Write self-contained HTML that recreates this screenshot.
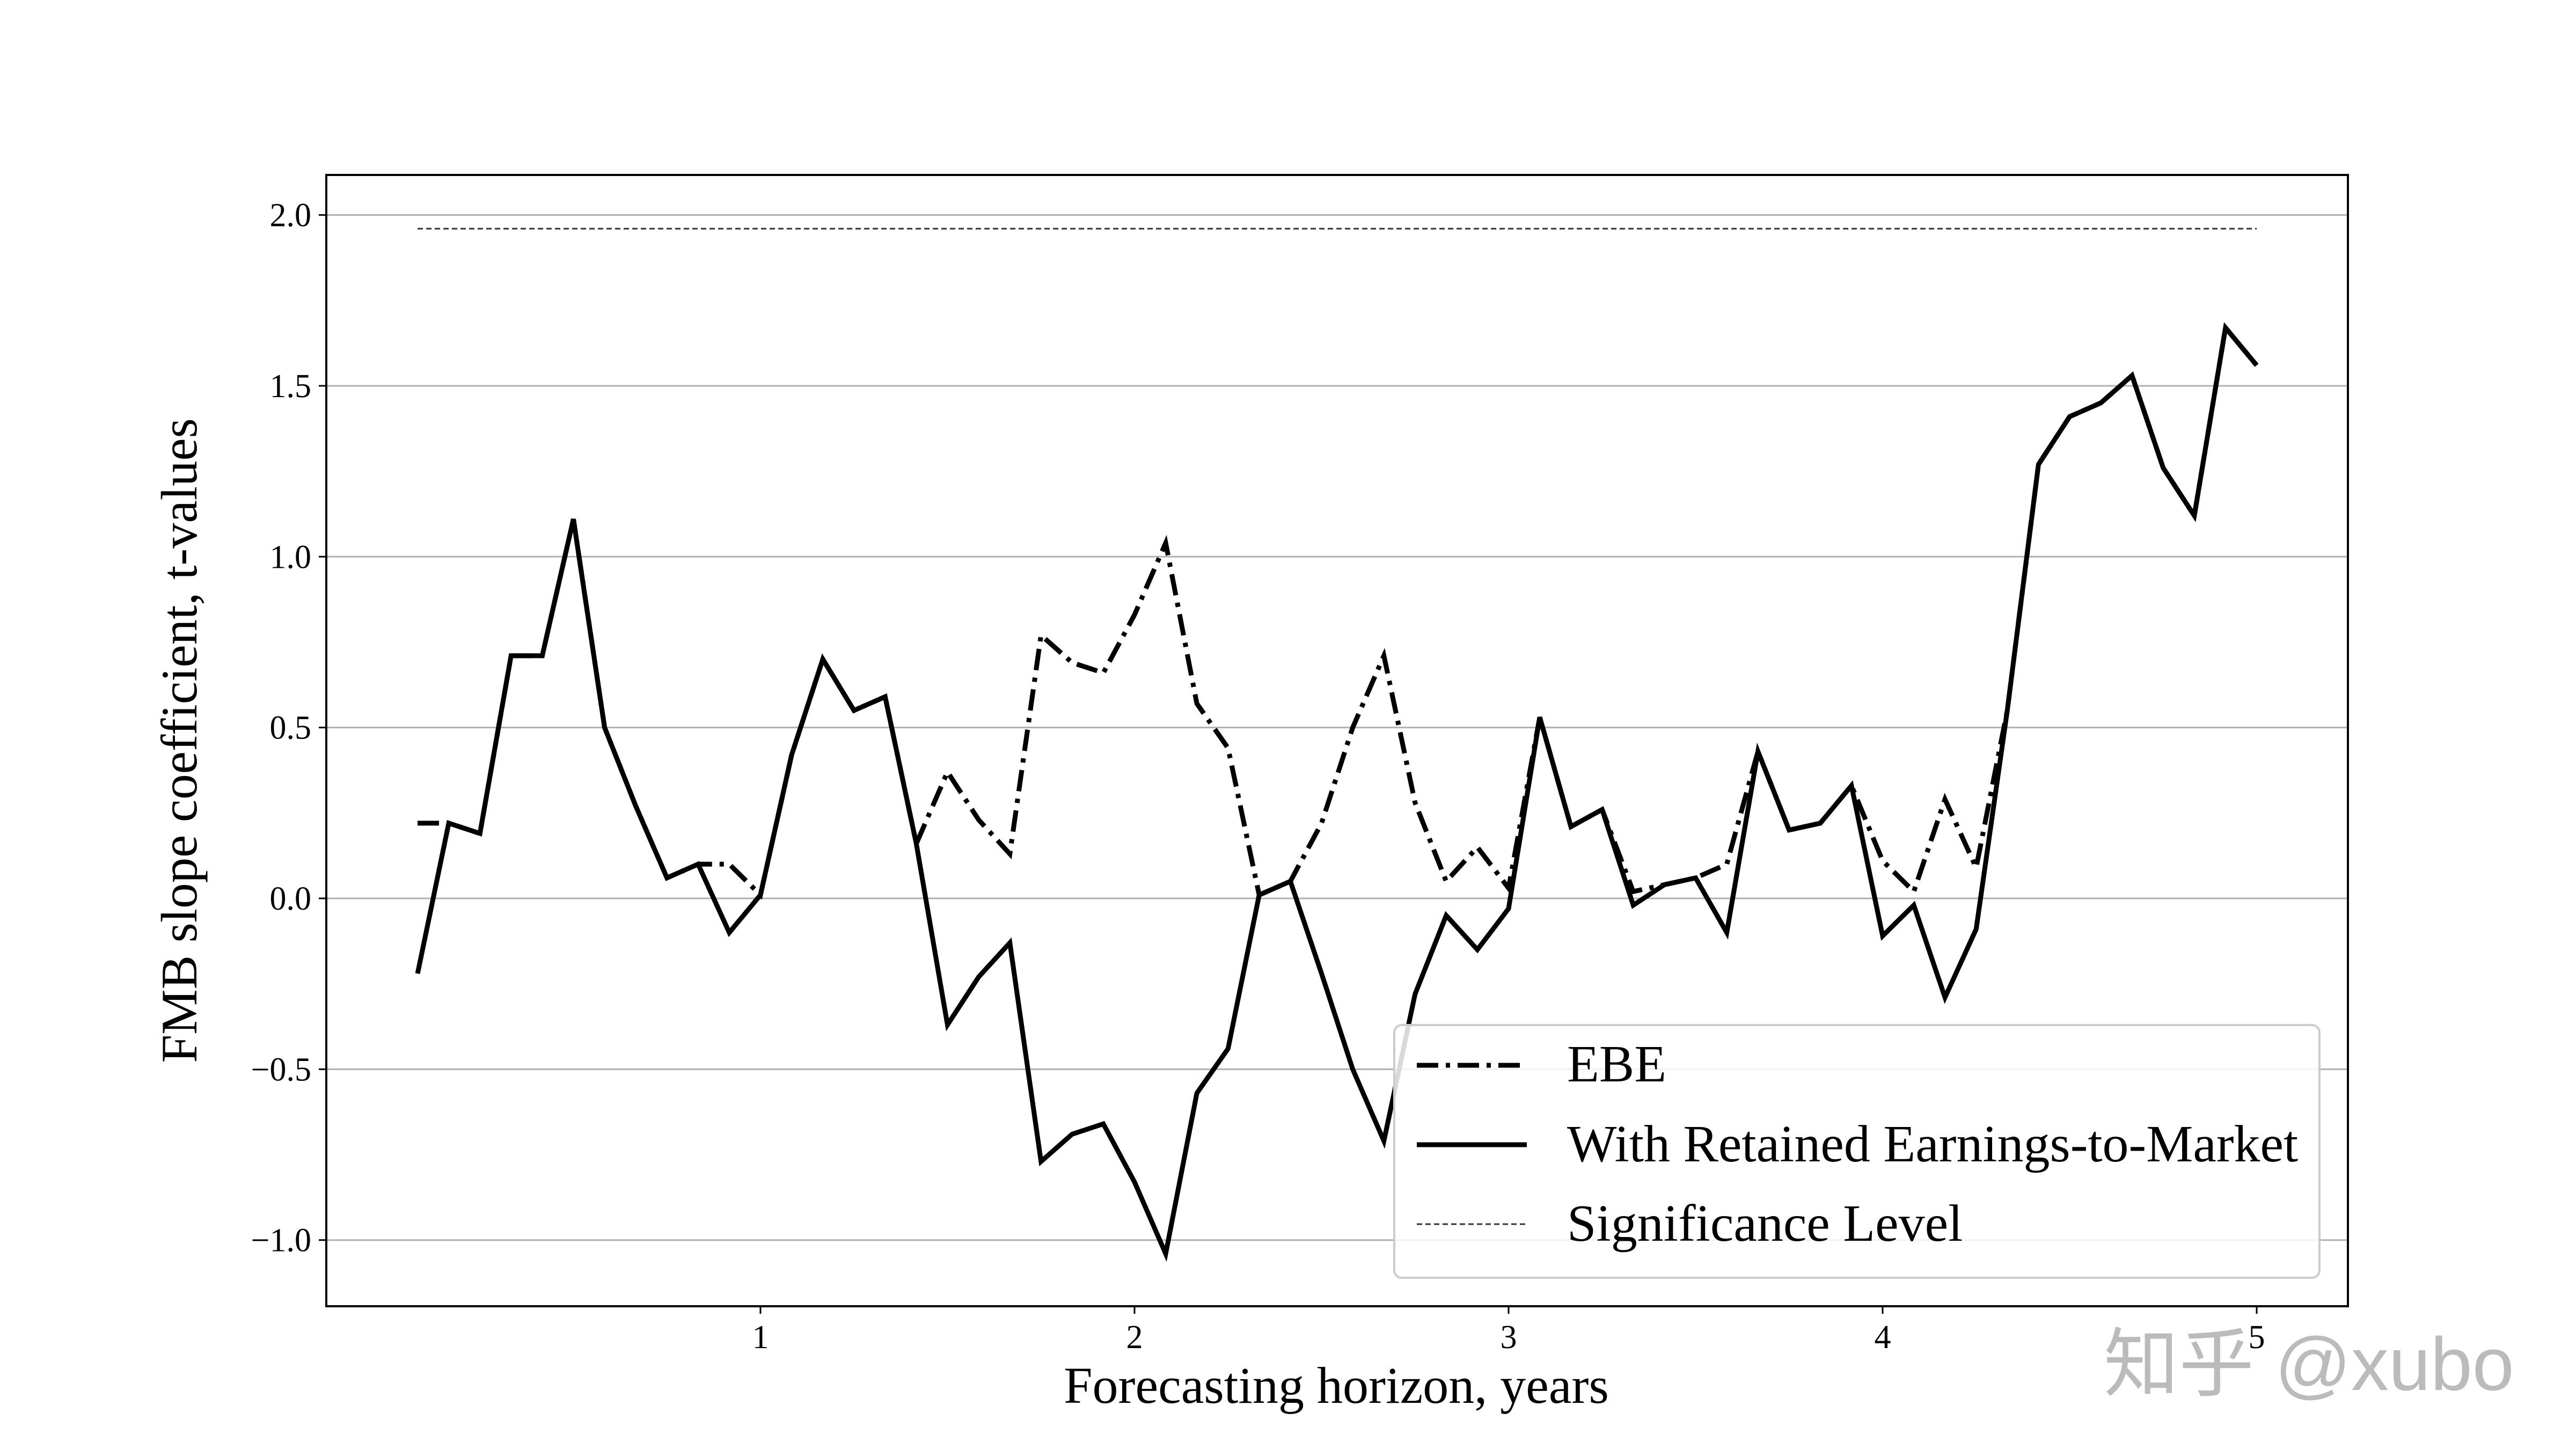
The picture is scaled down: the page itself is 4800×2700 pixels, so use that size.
<!DOCTYPE html>
<html><head><meta charset="utf-8"><style>
html,body{margin:0;padding:0;background:#fff;}
svg{display:block;font-family:"Liberation Serif","Noto Serif CJK SC",serif;}
</style></head><body>
<svg id="chart" width="4800" height="2700" viewBox="0 0 4800 2700">
<g id="grid"></g>
<g id="series"></g>
<rect x="608" y="326" width="3767" height="2108" fill="none" stroke="#000" stroke-width="4"/>
<g id="ticks"></g>
<text x="366" y="1380" font-size="95" text-anchor="middle" transform="rotate(-90 366 1380)">FMB slope coefficient, t-values</text>
<text x="2490" y="2614" font-size="96" text-anchor="middle">Forecasting horizon, years</text>
<g>
<rect x="2598" y="1910" width="1724" height="471" rx="14" fill="#fff" fill-opacity="0.85" stroke="#ccc" stroke-width="4"/>
<line x1="2640" y1="1985" x2="2845" y2="1985" stroke="#000" stroke-width="9" stroke-dasharray="40,14,8,14"/>
<text x="2920" y="2015" font-size="98">EBE</text>
<line x1="2640" y1="2133" x2="2845" y2="2133" stroke="#000" stroke-width="9"/>
<text x="2920" y="2164" font-size="98">With Retained Earnings-to-Market</text>
<line x1="2640" y1="2281" x2="2845" y2="2281" stroke="#333" stroke-width="3" stroke-dasharray="10,6"/>
<text x="2920" y="2312" font-size="98">Significance Level</text>
</g>
<text x="3920" y="2590" font-size="140" fill="#bbb" font-family="'Liberation Sans','Noto Sans CJK SC',sans-serif">知乎 @xubo</text>
</svg>
<script>
const retained = [-0.22,0.22,0.19,0.71,0.71,1.11,0.50,0.27,0.06,0.10,-0.10,0.01,0.42,0.70,0.55,0.59,0.16,-0.37,-0.23,-0.13,-0.77,-0.69,-0.66,-0.83,-1.04,-0.57,-0.44,0.01,0.05,-0.22,-0.50,-0.71,-0.28,-0.05,-0.15,-0.03,0.53,0.21,0.26,-0.02,0.04,0.06,-0.10,0.43,0.20,0.22,0.33,-0.11,-0.02,-0.29,-0.09,0.55,1.27,1.41,1.45,1.53,1.26,1.12,1.67,1.56];
const ebe = [0.22,0.22,0.19,0.71,0.71,1.11,0.50,0.27,0.06,0.10,0.10,0.01,0.42,0.70,0.55,0.59,0.16,0.37,0.23,0.13,0.77,0.69,0.66,0.83,1.04,0.57,0.44,0.01,0.05,0.22,0.50,0.71,0.28,0.05,0.15,0.03,0.53,0.21,0.26,0.02,0.04,0.06,0.10,0.43,0.20,0.22,0.33,0.11,0.02,0.29,0.09,0.55,1.27,1.41,1.45,1.53,1.26,1.12,1.67,1.56];
const significance = 1.96;
const yTicks = [-1.0,-0.5,0.0,0.5,1.0,1.5,2.0];
const yTickLabels = ["\u22121.0","\u22120.5","0.0","0.5","1.0","1.5","2.0"];
const xTicks = [1,2,3,4,5];
const NS="http://www.w3.org/2000/svg";
function X(v){return 1417+(v-1)*697;}
function Y(v){return 1674-v*636.7;}
function mk(tag,attrs,parent){const e=document.createElementNS(NS,tag);for(const k in attrs)e.setAttribute(k,attrs[k]);parent.appendChild(e);return e;}
const grid=document.getElementById('grid'),ticks=document.getElementById('ticks'),series=document.getElementById('series');
yTicks.forEach((t,i)=>{
  const l=mk('line',{x1:608,x2:4375,y1:Y(t),y2:Y(t),stroke:'#b0b0b0','stroke-width':3},grid);
  
  
  const tk=mk('line',{x1:594,x2:608,y1:Y(t),y2:Y(t),stroke:'#000','stroke-width':3},ticks);
  
  
  const tx=mk('text',{x:580,y:Y(t)+21,'font-size':62,'text-anchor':'end'},ticks);
  tx.textContent=yTickLabels[i];
  
  
});
xTicks.forEach(t=>{
  const tk=mk('line',{x1:X(t),x2:X(t),y1:2434,y2:2448,stroke:'#000','stroke-width':3},ticks);
  
  
  const tx=mk('text',{x:X(t),y:2512,'font-size':62,'text-anchor':'middle'},ticks);
  tx.textContent=String(t);
  
  
});
function pts(arr){return arr.map((v,i)=>X((i+1)/12).toFixed(1)+','+Y(v).toFixed(1)).join(' ');}
const sig=mk('line',{x1:X(1/12),x2:X(5),y1:Y(significance),y2:Y(significance),stroke:'#333','stroke-width':3,'stroke-dasharray':'10,6'},series);


const e=mk('polyline',{points:pts(ebe),fill:'none',stroke:'#000','stroke-width':9,'stroke-dasharray':'40,14,8,14','stroke-linejoin':'miter'},series);


const r=mk('polyline',{points:pts(retained),fill:'none',stroke:'#000','stroke-width':9,'stroke-linejoin':'miter'},series);


</script>
</body></html>
